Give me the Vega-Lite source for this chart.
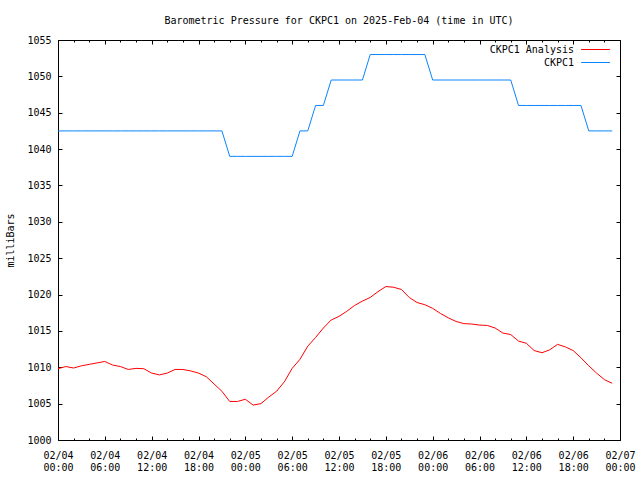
{
  "$schema": "https://vega.github.io/schema/vega-lite/v6.json",
  "width": 562,
  "height": 400,
  "autosize": {"type": "none"},
  "padding": {"left": 58, "top": 40, "right": 20, "bottom": 40},
  "background": "white",
  "config": {
    "font": "DejaVu Sans Mono",
    "view": {"stroke": "black", "strokeWidth": 1},
    "axis": {
      "domain": false,
      "grid": false,
      "labelFont": "DejaVu Sans Mono",
      "labelFontSize": 10,
      "labelColor": "black",
      "tickColor": "black",
      "tickWidth": 1,
      "titleFont": "DejaVu Sans Mono",
      "titleFontSize": 10,
      "titleFontWeight": "normal",
      "titleColor": "black",
      "labelFlush": false,
      "labelOverlap": false
    }
  },
  "title": {
    "text": "Barometric Pressure for CKPC1 on 2025-Feb-04 (time in UTC)",
    "font": "DejaVu Sans Mono",
    "fontSize": 10,
    "fontWeight": "normal",
    "color": "black",
    "anchor": "middle",
    "baseline": "alphabetic",
    "offset": 1
  },
  "data": {
    "values": [
      {"time": "2025-02-04T00:00:00Z", "series": "CKPC1 Analysis", "mb": 1009.8},
      {"time": "2025-02-04T01:00:00Z", "series": "CKPC1 Analysis", "mb": 1010.1},
      {"time": "2025-02-04T02:00:00Z", "series": "CKPC1 Analysis", "mb": 1009.9},
      {"time": "2025-02-04T03:00:00Z", "series": "CKPC1 Analysis", "mb": 1010.2},
      {"time": "2025-02-04T04:00:00Z", "series": "CKPC1 Analysis", "mb": 1010.4},
      {"time": "2025-02-04T05:00:00Z", "series": "CKPC1 Analysis", "mb": 1010.6},
      {"time": "2025-02-04T06:00:00Z", "series": "CKPC1 Analysis", "mb": 1010.8},
      {"time": "2025-02-04T07:00:00Z", "series": "CKPC1 Analysis", "mb": 1010.3},
      {"time": "2025-02-04T08:00:00Z", "series": "CKPC1 Analysis", "mb": 1010.1},
      {"time": "2025-02-04T09:00:00Z", "series": "CKPC1 Analysis", "mb": 1009.7},
      {"time": "2025-02-04T10:00:00Z", "series": "CKPC1 Analysis", "mb": 1009.85},
      {"time": "2025-02-04T11:00:00Z", "series": "CKPC1 Analysis", "mb": 1009.8},
      {"time": "2025-02-04T12:00:00Z", "series": "CKPC1 Analysis", "mb": 1009.2},
      {"time": "2025-02-04T13:00:00Z", "series": "CKPC1 Analysis", "mb": 1008.95},
      {"time": "2025-02-04T14:00:00Z", "series": "CKPC1 Analysis", "mb": 1009.2},
      {"time": "2025-02-04T15:00:00Z", "series": "CKPC1 Analysis", "mb": 1009.7},
      {"time": "2025-02-04T16:00:00Z", "series": "CKPC1 Analysis", "mb": 1009.7},
      {"time": "2025-02-04T17:00:00Z", "series": "CKPC1 Analysis", "mb": 1009.5},
      {"time": "2025-02-04T18:00:00Z", "series": "CKPC1 Analysis", "mb": 1009.2},
      {"time": "2025-02-04T19:00:00Z", "series": "CKPC1 Analysis", "mb": 1008.7},
      {"time": "2025-02-04T20:00:00Z", "series": "CKPC1 Analysis", "mb": 1007.7},
      {"time": "2025-02-04T21:00:00Z", "series": "CKPC1 Analysis", "mb": 1006.7},
      {"time": "2025-02-04T22:00:00Z", "series": "CKPC1 Analysis", "mb": 1005.3},
      {"time": "2025-02-04T23:00:00Z", "series": "CKPC1 Analysis", "mb": 1005.3},
      {"time": "2025-02-05T00:00:00Z", "series": "CKPC1 Analysis", "mb": 1005.6},
      {"time": "2025-02-05T01:00:00Z", "series": "CKPC1 Analysis", "mb": 1004.8},
      {"time": "2025-02-05T02:00:00Z", "series": "CKPC1 Analysis", "mb": 1005.0},
      {"time": "2025-02-05T03:00:00Z", "series": "CKPC1 Analysis", "mb": 1005.9},
      {"time": "2025-02-05T04:00:00Z", "series": "CKPC1 Analysis", "mb": 1006.7},
      {"time": "2025-02-05T05:00:00Z", "series": "CKPC1 Analysis", "mb": 1008.0},
      {"time": "2025-02-05T06:00:00Z", "series": "CKPC1 Analysis", "mb": 1009.85},
      {"time": "2025-02-05T07:00:00Z", "series": "CKPC1 Analysis", "mb": 1011.1},
      {"time": "2025-02-05T08:00:00Z", "series": "CKPC1 Analysis", "mb": 1012.9},
      {"time": "2025-02-05T09:00:00Z", "series": "CKPC1 Analysis", "mb": 1014.1},
      {"time": "2025-02-05T10:00:00Z", "series": "CKPC1 Analysis", "mb": 1015.4},
      {"time": "2025-02-05T11:00:00Z", "series": "CKPC1 Analysis", "mb": 1016.5},
      {"time": "2025-02-05T12:00:00Z", "series": "CKPC1 Analysis", "mb": 1017.0},
      {"time": "2025-02-05T13:00:00Z", "series": "CKPC1 Analysis", "mb": 1017.7},
      {"time": "2025-02-05T14:00:00Z", "series": "CKPC1 Analysis", "mb": 1018.5},
      {"time": "2025-02-05T15:00:00Z", "series": "CKPC1 Analysis", "mb": 1019.1},
      {"time": "2025-02-05T16:00:00Z", "series": "CKPC1 Analysis", "mb": 1019.6},
      {"time": "2025-02-05T17:00:00Z", "series": "CKPC1 Analysis", "mb": 1020.4},
      {"time": "2025-02-05T18:00:00Z", "series": "CKPC1 Analysis", "mb": 1021.1},
      {"time": "2025-02-05T19:00:00Z", "series": "CKPC1 Analysis", "mb": 1021.0},
      {"time": "2025-02-05T20:00:00Z", "series": "CKPC1 Analysis", "mb": 1020.7},
      {"time": "2025-02-05T21:00:00Z", "series": "CKPC1 Analysis", "mb": 1019.6},
      {"time": "2025-02-05T22:00:00Z", "series": "CKPC1 Analysis", "mb": 1018.9},
      {"time": "2025-02-05T23:00:00Z", "series": "CKPC1 Analysis", "mb": 1018.6},
      {"time": "2025-02-06T00:00:00Z", "series": "CKPC1 Analysis", "mb": 1018.1},
      {"time": "2025-02-06T01:00:00Z", "series": "CKPC1 Analysis", "mb": 1017.4},
      {"time": "2025-02-06T02:00:00Z", "series": "CKPC1 Analysis", "mb": 1016.8},
      {"time": "2025-02-06T03:00:00Z", "series": "CKPC1 Analysis", "mb": 1016.3},
      {"time": "2025-02-06T04:00:00Z", "series": "CKPC1 Analysis", "mb": 1016.0},
      {"time": "2025-02-06T05:00:00Z", "series": "CKPC1 Analysis", "mb": 1015.95},
      {"time": "2025-02-06T06:00:00Z", "series": "CKPC1 Analysis", "mb": 1015.8},
      {"time": "2025-02-06T07:00:00Z", "series": "CKPC1 Analysis", "mb": 1015.75},
      {"time": "2025-02-06T08:00:00Z", "series": "CKPC1 Analysis", "mb": 1015.4},
      {"time": "2025-02-06T09:00:00Z", "series": "CKPC1 Analysis", "mb": 1014.7},
      {"time": "2025-02-06T10:00:00Z", "series": "CKPC1 Analysis", "mb": 1014.5},
      {"time": "2025-02-06T11:00:00Z", "series": "CKPC1 Analysis", "mb": 1013.6},
      {"time": "2025-02-06T12:00:00Z", "series": "CKPC1 Analysis", "mb": 1013.3},
      {"time": "2025-02-06T13:00:00Z", "series": "CKPC1 Analysis", "mb": 1012.3},
      {"time": "2025-02-06T14:00:00Z", "series": "CKPC1 Analysis", "mb": 1012.0},
      {"time": "2025-02-06T15:00:00Z", "series": "CKPC1 Analysis", "mb": 1012.4},
      {"time": "2025-02-06T16:00:00Z", "series": "CKPC1 Analysis", "mb": 1013.15},
      {"time": "2025-02-06T17:00:00Z", "series": "CKPC1 Analysis", "mb": 1012.8},
      {"time": "2025-02-06T18:00:00Z", "series": "CKPC1 Analysis", "mb": 1012.3},
      {"time": "2025-02-06T19:00:00Z", "series": "CKPC1 Analysis", "mb": 1011.3},
      {"time": "2025-02-06T20:00:00Z", "series": "CKPC1 Analysis", "mb": 1010.2},
      {"time": "2025-02-06T21:00:00Z", "series": "CKPC1 Analysis", "mb": 1009.2},
      {"time": "2025-02-06T22:00:00Z", "series": "CKPC1 Analysis", "mb": 1008.3},
      {"time": "2025-02-06T23:00:00Z", "series": "CKPC1 Analysis", "mb": 1007.8},
      {"time": "2025-02-04T00:00:00Z", "series": "CKPC1", "mb": 1042.5},
      {"time": "2025-02-04T01:00:00Z", "series": "CKPC1", "mb": 1042.5},
      {"time": "2025-02-04T02:00:00Z", "series": "CKPC1", "mb": 1042.5},
      {"time": "2025-02-04T03:00:00Z", "series": "CKPC1", "mb": 1042.5},
      {"time": "2025-02-04T04:00:00Z", "series": "CKPC1", "mb": 1042.5},
      {"time": "2025-02-04T05:00:00Z", "series": "CKPC1", "mb": 1042.5},
      {"time": "2025-02-04T06:00:00Z", "series": "CKPC1", "mb": 1042.5},
      {"time": "2025-02-04T07:00:00Z", "series": "CKPC1", "mb": 1042.5},
      {"time": "2025-02-04T08:00:00Z", "series": "CKPC1", "mb": 1042.5},
      {"time": "2025-02-04T09:00:00Z", "series": "CKPC1", "mb": 1042.5},
      {"time": "2025-02-04T10:00:00Z", "series": "CKPC1", "mb": 1042.5},
      {"time": "2025-02-04T11:00:00Z", "series": "CKPC1", "mb": 1042.5},
      {"time": "2025-02-04T12:00:00Z", "series": "CKPC1", "mb": 1042.5},
      {"time": "2025-02-04T13:00:00Z", "series": "CKPC1", "mb": 1042.5},
      {"time": "2025-02-04T14:00:00Z", "series": "CKPC1", "mb": 1042.5},
      {"time": "2025-02-04T15:00:00Z", "series": "CKPC1", "mb": 1042.5},
      {"time": "2025-02-04T16:00:00Z", "series": "CKPC1", "mb": 1042.5},
      {"time": "2025-02-04T17:00:00Z", "series": "CKPC1", "mb": 1042.5},
      {"time": "2025-02-04T18:00:00Z", "series": "CKPC1", "mb": 1042.5},
      {"time": "2025-02-04T19:00:00Z", "series": "CKPC1", "mb": 1042.5},
      {"time": "2025-02-04T20:00:00Z", "series": "CKPC1", "mb": 1042.5},
      {"time": "2025-02-04T21:00:00Z", "series": "CKPC1", "mb": 1042.5},
      {"time": "2025-02-04T22:00:00Z", "series": "CKPC1", "mb": 1039},
      {"time": "2025-02-04T23:00:00Z", "series": "CKPC1", "mb": 1039},
      {"time": "2025-02-05T00:00:00Z", "series": "CKPC1", "mb": 1039},
      {"time": "2025-02-05T01:00:00Z", "series": "CKPC1", "mb": 1039},
      {"time": "2025-02-05T02:00:00Z", "series": "CKPC1", "mb": 1039},
      {"time": "2025-02-05T03:00:00Z", "series": "CKPC1", "mb": 1039},
      {"time": "2025-02-05T04:00:00Z", "series": "CKPC1", "mb": 1039},
      {"time": "2025-02-05T05:00:00Z", "series": "CKPC1", "mb": 1039},
      {"time": "2025-02-05T06:00:00Z", "series": "CKPC1", "mb": 1039},
      {"time": "2025-02-05T07:00:00Z", "series": "CKPC1", "mb": 1042.5},
      {"time": "2025-02-05T08:00:00Z", "series": "CKPC1", "mb": 1042.5},
      {"time": "2025-02-05T09:00:00Z", "series": "CKPC1", "mb": 1046},
      {"time": "2025-02-05T10:00:00Z", "series": "CKPC1", "mb": 1046},
      {"time": "2025-02-05T11:00:00Z", "series": "CKPC1", "mb": 1049.5},
      {"time": "2025-02-05T12:00:00Z", "series": "CKPC1", "mb": 1049.5},
      {"time": "2025-02-05T13:00:00Z", "series": "CKPC1", "mb": 1049.5},
      {"time": "2025-02-05T14:00:00Z", "series": "CKPC1", "mb": 1049.5},
      {"time": "2025-02-05T15:00:00Z", "series": "CKPC1", "mb": 1049.5},
      {"time": "2025-02-05T16:00:00Z", "series": "CKPC1", "mb": 1053},
      {"time": "2025-02-05T17:00:00Z", "series": "CKPC1", "mb": 1053},
      {"time": "2025-02-05T18:00:00Z", "series": "CKPC1", "mb": 1053},
      {"time": "2025-02-05T19:00:00Z", "series": "CKPC1", "mb": 1053},
      {"time": "2025-02-05T20:00:00Z", "series": "CKPC1", "mb": 1053},
      {"time": "2025-02-05T21:00:00Z", "series": "CKPC1", "mb": 1053},
      {"time": "2025-02-05T22:00:00Z", "series": "CKPC1", "mb": 1053},
      {"time": "2025-02-05T23:00:00Z", "series": "CKPC1", "mb": 1053},
      {"time": "2025-02-06T00:00:00Z", "series": "CKPC1", "mb": 1049.5},
      {"time": "2025-02-06T01:00:00Z", "series": "CKPC1", "mb": 1049.5},
      {"time": "2025-02-06T02:00:00Z", "series": "CKPC1", "mb": 1049.5},
      {"time": "2025-02-06T03:00:00Z", "series": "CKPC1", "mb": 1049.5},
      {"time": "2025-02-06T04:00:00Z", "series": "CKPC1", "mb": 1049.5},
      {"time": "2025-02-06T05:00:00Z", "series": "CKPC1", "mb": 1049.5},
      {"time": "2025-02-06T06:00:00Z", "series": "CKPC1", "mb": 1049.5},
      {"time": "2025-02-06T07:00:00Z", "series": "CKPC1", "mb": 1049.5},
      {"time": "2025-02-06T08:00:00Z", "series": "CKPC1", "mb": 1049.5},
      {"time": "2025-02-06T09:00:00Z", "series": "CKPC1", "mb": 1049.5},
      {"time": "2025-02-06T10:00:00Z", "series": "CKPC1", "mb": 1049.5},
      {"time": "2025-02-06T11:00:00Z", "series": "CKPC1", "mb": 1046},
      {"time": "2025-02-06T12:00:00Z", "series": "CKPC1", "mb": 1046},
      {"time": "2025-02-06T13:00:00Z", "series": "CKPC1", "mb": 1046},
      {"time": "2025-02-06T14:00:00Z", "series": "CKPC1", "mb": 1046},
      {"time": "2025-02-06T15:00:00Z", "series": "CKPC1", "mb": 1046},
      {"time": "2025-02-06T16:00:00Z", "series": "CKPC1", "mb": 1046},
      {"time": "2025-02-06T17:00:00Z", "series": "CKPC1", "mb": 1046},
      {"time": "2025-02-06T18:00:00Z", "series": "CKPC1", "mb": 1046},
      {"time": "2025-02-06T19:00:00Z", "series": "CKPC1", "mb": 1046},
      {"time": "2025-02-06T20:00:00Z", "series": "CKPC1", "mb": 1042.5},
      {"time": "2025-02-06T21:00:00Z", "series": "CKPC1", "mb": 1042.5},
      {"time": "2025-02-06T22:00:00Z", "series": "CKPC1", "mb": 1042.5},
      {"time": "2025-02-06T23:00:00Z", "series": "CKPC1", "mb": 1042.5}
    ]
  },
  "layer": [
    {
      "mark": {"type": "line", "strokeWidth": 1, "interpolate": "linear"},
      "encoding": {
        "x": {
          "field": "time", "type": "temporal",
          "scale": {"type": "utc", "nice": false, "domain": [1738627200000, 1738886400000]},
          "axis": {
            "orient": "bottom", "title": null,
            "values": [1738627200000, 1738648800000, 1738670400000, 1738692000000, 1738713600000, 1738735200000, 1738756800000, 1738778400000, 1738800000000, 1738821600000, 1738843200000, 1738864800000, 1738886400000],
            "tickSize": -4,
            "labelPadding": 14,
            "labelBaseline": "top",
            "labelLineHeight": 12,
            "labelExpr": "[utcFormat(datum.value, '%m/%d'), utcFormat(datum.value, '%H:%M')]"
          }
        },
        "y": {
          "field": "mb", "type": "quantitative",
          "scale": {"domain": [1000, 1055], "nice": false, "zero": false},
          "axis": {
            "orient": "left", "title": "milliBars", "format": "d",
            "values": [1000, 1005, 1010, 1015, 1020, 1025, 1030, 1035, 1040, 1045, 1050, 1055],
            "tickSize": -4,
            "labelPadding": 11,
            "titlePadding": 11
          }
        },
        "color": {
          "field": "series", "type": "nominal",
          "scale": {"domain": ["CKPC1 Analysis", "CKPC1"], "range": ["#ff0000", "#0a84ff"]},
          "legend": {
            "orient": "none", "legendX": 531, "legendY": 3,
            "title": null,
            "symbolType": "M-2.4,0H2.4", "symbolSize": 144, "symbolStrokeWidth": 1,
            "labelAlign": "right", "labelOffset": -28,
            "labelFont": "DejaVu Sans Mono", "labelFontSize": 10, "labelColor": "black",
            "rowPadding": 1,
            "padding": 0,
            "encode": {
              "symbols": {
                "update": {
                  "stroke": {"scale": "color", "field": "value"},
                  "fill": {"value": "transparent"}
                }
              }
            }
          }
        }
      }
    },
    {
      "mark": {"type": "line", "strokeOpacity": 0},
      "encoding": {
        "x": {
          "field": "time", "type": "temporal",
          "axis": {"orient": "top", "title": null, "labels": false, "tickSize": -4,
            "values": [1738627200000, 1738648800000, 1738670400000, 1738692000000, 1738713600000, 1738735200000, 1738756800000, 1738778400000, 1738800000000, 1738821600000, 1738843200000, 1738864800000, 1738886400000]}
        },
        "y": {
          "field": "mb", "type": "quantitative",
          "axis": {"orient": "right", "title": null, "labels": false, "values": [1000, 1005, 1010, 1015, 1020, 1025, 1030, 1035, 1040, 1045, 1050, 1055], "tickSize": -4}
        },
        "detail": {"field": "series"}
      }
    },
    {
      "mark": {"type": "line", "strokeOpacity": 0},
      "encoding": {
        "x": {
          "field": "time", "type": "temporal",
          "axis": {"orient": "bottom", "title": null, "labels": false, "tickSize": -2,
            "values": [1738627200000, 1738634400000, 1738641600000, 1738648800000, 1738656000000, 1738663200000, 1738670400000, 1738677600000, 1738684800000, 1738692000000, 1738699200000, 1738706400000, 1738713600000, 1738720800000, 1738728000000, 1738735200000, 1738742400000, 1738749600000, 1738756800000, 1738764000000, 1738771200000, 1738778400000, 1738785600000, 1738792800000, 1738800000000, 1738807200000, 1738814400000, 1738821600000, 1738828800000, 1738836000000, 1738843200000, 1738850400000, 1738857600000, 1738864800000, 1738872000000, 1738879200000, 1738886400000]}
        },
        "y": {"field": "mb", "type": "quantitative", "axis": null},
        "detail": {"field": "series"}
      }
    },
    {
      "mark": {"type": "line", "strokeOpacity": 0},
      "encoding": {
        "x": {
          "field": "time", "type": "temporal",
          "axis": {"orient": "top", "title": null, "labels": false, "tickSize": -2,
            "values": [1738627200000, 1738634400000, 1738641600000, 1738648800000, 1738656000000, 1738663200000, 1738670400000, 1738677600000, 1738684800000, 1738692000000, 1738699200000, 1738706400000, 1738713600000, 1738720800000, 1738728000000, 1738735200000, 1738742400000, 1738749600000, 1738756800000, 1738764000000, 1738771200000, 1738778400000, 1738785600000, 1738792800000, 1738800000000, 1738807200000, 1738814400000, 1738821600000, 1738828800000, 1738836000000, 1738843200000, 1738850400000, 1738857600000, 1738864800000, 1738872000000, 1738879200000, 1738886400000]}
        },
        "y": {"field": "mb", "type": "quantitative", "axis": null},
        "detail": {"field": "series"}
      }
    }
  ],
  "resolve": {"axis": {"x": "independent", "y": "independent"}}
}
